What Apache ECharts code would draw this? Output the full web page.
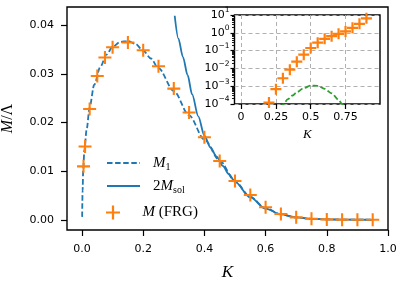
<!DOCTYPE html>
<html>
<head>
<meta charset="utf-8">
<script src="https://cdn.jsdelivr.net/npm/echarts@6.0.0/dist/echarts.min.js"></script>
<style>
html,body{margin:0;padding:0;background:#fff;}
#chart{width:399px;height:282px;}
</style>
</head>
<body>
<div id="chart"></div>
<script>
// ---- data ----
const mainXTicks = [0, 0.2, 0.4, 0.6, 0.8, 1.0];
const mainXTickLabels = ['0.0', '0.2', '0.4', '0.6', '0.8', '1.0'];
const mainYTicks = [0, 0.01, 0.02, 0.03, 0.04];
const mainYTickLabels = ['0.00', '0.01', '0.02', '0.03', '0.04'];
const insetXTicks = [0, 0.25, 0.5, 0.75];
const insetXTickLabels = ['0', '0.25', '0.5', '0.75'];
const insetYTicks = [1e-4, 1e-3, 1e-2, 1e-1, 1e0, 1e1];
const insetYExponents = ['−4', '−3', '−2', '−1', '0', '1'];
const insetYMinorTicks = [2e-4,3e-4,4e-4,5e-4,6e-4,7e-4,8e-4,9e-4,
  2e-3,3e-3,4e-3,5e-3,6e-3,7e-3,8e-3,9e-3,
  2e-2,3e-2,4e-2,5e-2,6e-2,7e-2,8e-2,9e-2,
  0.2,0.3,0.4,0.5,0.6,0.7,0.8,0.9,
  2,3,4,5,6,7,8,9];

// M_1 (dashed)
const m1K   = [0.0005, 0.002, 0.004, 0.008, 0.015, 0.025, 0.04, 0.06, 0.08, 0.1, 0.125, 0.15, 0.175, 0.2, 0.225, 0.25, 0.3, 0.35, 0.4, 0.45, 0.5, 0.55, 0.6, 0.65, 0.7, 0.75, 0.8, 0.85, 0.9, 0.95];
const m1Val = [0.0006, 0.0060, 0.0105, 0.0145, 0.0185, 0.0232, 0.0278, 0.0315, 0.0340, 0.0356, 0.0366, 0.0368, 0.0362, 0.0348, 0.0332, 0.0312, 0.0265, 0.0215, 0.0165, 0.0122, 0.0079, 0.0047, 0.0024, 0.0011, 0.0005, 0.0002, 0.0001, 0.00005, 0.00002, 0.00001];

// 2 M_sol (solid)
const msolK   = [0.303, 0.315, 0.33, 0.345, 0.36, 0.38, 0.40, 0.42, 0.44, 0.46, 0.48, 0.50, 0.55, 0.60, 0.65, 0.70, 0.75, 0.80, 0.85, 0.90, 0.95];
const msolVal = [0.0420, 0.0373, 0.0335, 0.0298, 0.0258, 0.0213, 0.0173, 0.0149, 0.0130, 0.0111, 0.0094, 0.0078, 0.0046, 0.0023, 0.0011, 0.0005, 0.0002, 0.00008, 0.00003, 0.00001, 0.000003];

// M (FRG) crosses
const frgK   = [0.005, 0.01, 0.025, 0.05, 0.075, 0.1, 0.15, 0.2, 0.25, 0.3, 0.35, 0.4, 0.45, 0.5, 0.55, 0.6, 0.65, 0.7, 0.75, 0.8, 0.85, 0.9, 0.95];
const frgVal = [0.0110, 0.0151, 0.0228, 0.0296, 0.0334, 0.0355, 0.0365, 0.0349, 0.0316, 0.0270, 0.0221, 0.0170, 0.0121, 0.0080, 0.0051, 0.0026, 0.0012, 0.0005, 0.0002, 0.00008, 0.00003, 0.00001, 0.000005];

// inset: FRG crosses (log scale)
const insetFrgK   = [0.2, 0.25, 0.3, 0.35, 0.4, 0.45, 0.5, 0.55, 0.6, 0.65, 0.7, 0.75, 0.8, 0.85, 0.9];
const insetFrgVal = [1.2e-4, 6.8e-4, 2.8e-3, 8.5e-3, 0.024, 0.059, 0.14, 0.28, 0.46, 0.65, 0.88, 1.2, 1.9, 3.2, 6.5];

// inset: green dashed curve
const insetGreenK   = [0.28, 0.30, 0.336, 0.37, 0.40, 0.45, 0.50, 0.55, 0.60, 0.65, 0.70, 0.726, 0.75];
const insetGreenVal = [6.3e-5, 9.1e-5, 1.86e-4, 3.0e-4, 4.6e-4, 7.8e-4, 1.08e-3, 1.05e-3, 7.1e-4, 4.0e-4, 1.7e-4, 1.0e-4, 6e-5];

// ---- helpers ----
const zip = (a, b) => a.map((v, i) => [v, b[i]]);
const BLUE = '#1f77b4', ORANGE = '#ff7f0e', GREEN = '#2ca02c';
const PLUS = 'path://M4.2,0H5.8V4.2H10V5.8H5.8V10H4.2V5.8H0V4.2H4.2Z';
const PLUS_S = 'path://M4,0H6V4H10V6H6V10H4V6H0V4H4Z';
const TICKFONT = {fontFamily: 'DejaVu Sans', fontSize: 11, color: '#000'};
const SERIF = 'Liberation Serif';

const chart = echarts.init(document.getElementById('chart'), null, {renderer: 'canvas'});

const legendRich = {
  i: {fontFamily: SERIF, fontStyle: 'italic', fontSize: 15, color: '#000', lineHeight: 16},
  n: {fontFamily: SERIF, fontSize: 15, color: '#000', lineHeight: 16},
  p: {fontFamily: SERIF, fontStyle: 'italic', fontSize: 15, color: '#000', lineHeight: 16, padding: [0, 0, 0, 8]},
  pn: {fontFamily: SERIF, fontSize: 15, color: '#000', lineHeight: 16, padding: [0, 0, 0, 8]},
  s: {fontFamily: SERIF, fontSize: 10, color: '#000', lineHeight: 10, padding: [8, 0, 0, 0]}
};
const legendText = {
  'M1': '{p|M}{s|1}',
  '2Msol': '{pn|2}{i|M}{s|sol}',
  'MFRG': '{p|M}{n| (FRG)}'
};
function mkLegend(name, top, hideSymbol) {
  const l = {
    data: [name], left: 106, top: top, itemWidth: 33, itemHeight: 14,
    formatter: n => legendText[n],
    textStyle: {rich: legendRich}, padding: 0
  };
  if (hideSymbol) l.itemStyle = {opacity: 0, borderWidth: 0};
  return l;
}

const option = {
  animation: false,
  backgroundColor: '#fff',
  grid: [
    {left: 67, top: 7, right: 11, bottom: 52, show: true, borderColor: '#000', borderWidth: 1.4, backgroundColor: 'transparent', outerBoundsMode: 'none', containLabel: false},
    {left: 234.5, top: 15, right: 19, bottom: 178, show: true, borderColor: '#000', borderWidth: 1.4, backgroundColor: '#fff', outerBoundsMode: 'none', containLabel: false}
  ],
  legend: [mkLegend('M1', 154, true), mkLegend('2Msol', 177, true), mkLegend('MFRG', 205, false)],
  xAxis: [
    {
      gridIndex: 0, type: 'value', min: -0.049, max: 1.0,
      axisLine: {show: false, onZero: false},
      axisTick: {show: true, length: 6, inside: false, lineStyle: {color: '#000', width: 1.2}, customValues: mainXTicks},
      axisLabel: Object.assign({margin: 14, customValues: mainXTicks, formatter: v => mainXTickLabels[mainXTicks.findIndex(t => Math.abs(t - v) < 1e-9)]}, TICKFONT),
      splitLine: {show: false},
      name: 'K', nameLocation: 'middle', nameGap: 34,
      nameTextStyle: {fontFamily: SERIF, fontStyle: 'italic', fontSize: 17, color: '#000'}
    },
    {
      gridIndex: 1, type: 'value', min: -0.0475, max: 0.9975, z: 6,
      axisLine: {show: false, onZero: false},
      axisTick: {show: true, length: 5, lineStyle: {color: '#000', width: 1.2}, customValues: insetXTicks},
      axisLabel: Object.assign({margin: 8, customValues: insetXTicks, formatter: v => insetXTickLabels[insetXTicks.findIndex(t => Math.abs(t - v) < 1e-9)]}, TICKFONT),
      splitLine: {show: true, lineStyle: {color: '#b0b0b0', type: [4, 3], width: 1}},
      name: 'K', nameLocation: 'middle', nameGap: 24,
      nameTextStyle: {fontFamily: SERIF, fontStyle: 'italic', fontSize: 13, color: '#000'}
    }
  ],
  yAxis: [
    {
      gridIndex: 0, type: 'value', min: -0.0021, max: 0.0438,
      axisLine: {show: false, onZero: false},
      axisTick: {show: true, length: 6, lineStyle: {color: '#000', width: 1.2}, customValues: mainYTicks},
      axisLabel: Object.assign({margin: 13, customValues: mainYTicks, formatter: v => mainYTickLabels[mainYTicks.findIndex(t => Math.abs(t - v) < 1e-9)]}, TICKFONT),
      splitLine: {show: false},
      name: '{i|M}{n|/Λ}', nameLocation: 'middle', nameGap: 51, nameRotate: 90,
      nameTextStyle: {rich: {
        i: {fontFamily: SERIF, fontStyle: 'italic', fontSize: 16, color: '#000'},
        n: {fontFamily: SERIF, fontSize: 16, color: '#000'}
      }}
    },
    {
      gridIndex: 1, type: 'log', min: 1e-4, max: 1e1, logBase: 10, position: 'left', z: 6,
      axisLine: {show: false, onZero: false},
      axisTick: {show: true, length: 4, lineStyle: {color: '#000', width: 1.2}, customValues: insetYTicks},
      axisLabel: {
        margin: 5, customValues: insetYTicks,
        formatter: v => '{b|10}{e|' + insetYExponents[insetYTicks.findIndex(t => Math.abs(Math.log10(t) - Math.log10(v)) < 1e-6)] + '}',
        rich: {
          b: {fontFamily: 'DejaVu Sans', fontSize: 11, color: '#000', lineHeight: 13},
          e: {fontFamily: 'DejaVu Sans', fontSize: 7.5, color: '#000', lineHeight: 9, padding: [0, 0, 9, 0]}
        }
      },
      splitLine: {show: true, lineStyle: {color: '#b0b0b0', type: [4, 3], width: 1}}
    },
    {
      gridIndex: 1, type: 'log', min: 1e-4, max: 1e1, logBase: 10, position: 'left', offset: 0, z: 6,
      axisLine: {show: false, onZero: false},
      axisTick: {show: true, length: 2.5, lineStyle: {color: '#000', width: 0.9}, customValues: insetYMinorTicks},
      axisLabel: {show: false},
      splitLine: {show: false}
    }
  ],
  series: [
    {
      name: 'M1', type: 'line', xAxisIndex: 0, yAxisIndex: 0, data: zip(m1K, m1Val),
      symbol: 'none', smooth: 0.3, smoothMonotone: 'x',
      lineStyle: {color: BLUE, width: 1.8, type: [5.5, 2.6]}, itemStyle: {color: BLUE}, z: 2
    },
    {
      name: '2Msol', type: 'line', xAxisIndex: 0, yAxisIndex: 0, data: zip(msolK, msolVal),
      symbol: 'none', smooth: 0.3, smoothMonotone: 'x',
      lineStyle: {color: BLUE, width: 1.8}, itemStyle: {color: BLUE}, z: 2
    },
    {
      name: 'MFRG', type: 'scatter', xAxisIndex: 0, yAxisIndex: 0, data: zip(frgK, frgVal),
      symbol: PLUS, symbolSize: 13, itemStyle: {color: ORANGE, opacity: 1}, z: 3
    },
    {
      name: 'insetGreen', type: 'line', xAxisIndex: 1, yAxisIndex: 1, data: zip(insetGreenK, insetGreenVal),
      symbol: 'none', smooth: 0.3, smoothMonotone: 'x', clip: true,
      lineStyle: {color: GREEN, width: 1.8, type: [5.5, 2.6]}, z: 6
    },
    {
      name: 'insetFRG', type: 'scatter', xAxisIndex: 1, yAxisIndex: 1, data: zip(insetFrgK, insetFrgVal),
      symbol: PLUS_S, symbolSize: 11, itemStyle: {color: ORANGE, opacity: 1}, z: 7, clip: true
    }
  ]
};
chart.setOption(option);
</script>
</body>
</html>
